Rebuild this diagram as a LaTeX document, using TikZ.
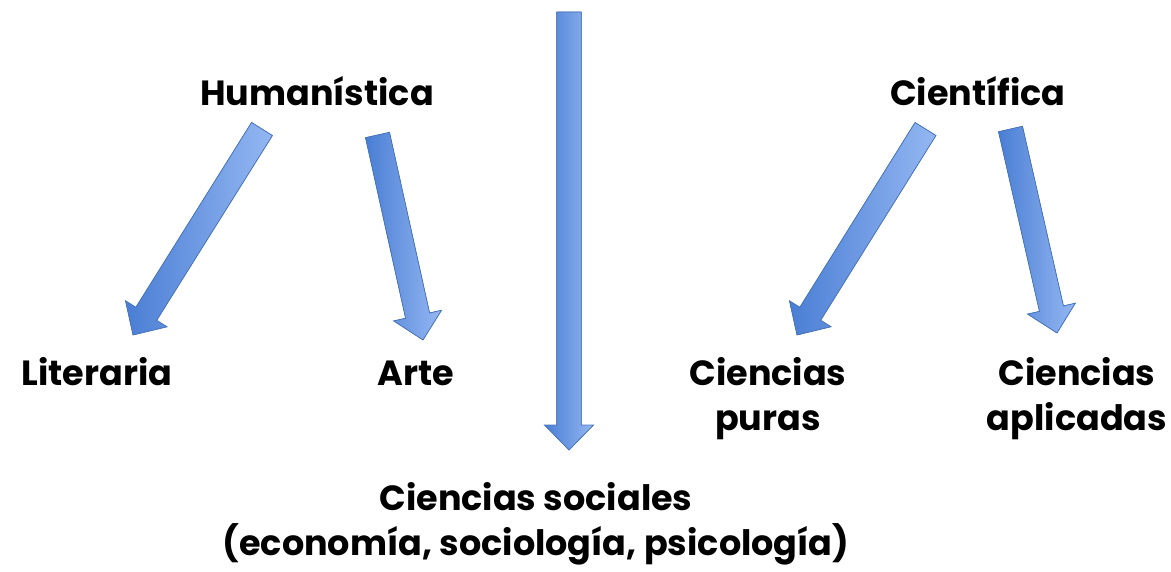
\documentclass[tikz,border=0pt]{standalone}
\usepackage{fontspec}
\setmainfont{Poppins}
\usetikzlibrary{calc}
\definecolor{arrowdark}{RGB}{74,126,212}
\definecolor{arrowlight}{RGB}{148,183,242}
\definecolor{arrowline}{RGB}{72,118,190}
\tikzset{
  label/.style={font=\bfseries\fontsize{35}{45}\selectfont, align=center, anchor=base, inner sep=0pt},
  blockarrow/.style={left color=arrowdark, right color=arrowlight, draw=arrowline, line width=0.8pt, line join=miter}
}
% block arrow from #1 to #2
\newcommand{\bigarrow}[2]{%
  \coordinate (hb) at ($(#2)!25pt!(#1)$);
  \filldraw[blockarrow] ($(#1)!12.3pt!90:(#2)$) -- ($(hb)!12.3pt!90:(#2)$)
    -- ($(hb)!24.5pt!90:(#2)$) -- (#2) -- ($(hb)!24.5pt!-90:(#2)$)
    -- ($(hb)!12.3pt!-90:(#2)$) -- ($(#1)!12.3pt!-90:(#2)$) -- cycle;
}
\begin{document}
\begin{tikzpicture}[x=1pt,y=-1pt]
\useasboundingbox (0,0) rectangle (1171,572);
% labels (base = last line)
\node[label] (hum) at (317,106) {Humanística};
\node[label] (cie) at (978,106) {Científica};
\node[label] (lit) at (97,385) {Literaria};
\node[label] (art) at (416,385) {Arte};
\node[label] (pur) at (768,430) {Ciencias\\puras};
\node[label] (apl) at (1077,430) {Ciencias\\aplicadas};
\node[label] (soc) at (536,555) {Ciencias sociales\\(economía, sociología, psicología)};
% arrow ends
\coordinate (top) at (569,12);
\coordinate (bot) at (569,450);
\coordinate (hum-l) at (262,129);
\coordinate (lit-t) at (133,335);
\coordinate (hum-r) at (377.5,135);
\coordinate (art-t) at (423,340);
\coordinate (cie-l) at (925.5,129);
\coordinate (pur-t) at (797,335);
\coordinate (cie-r) at (1010.5,129);
\coordinate (apl-t) at (1057,333);
% arrows
\foreach \a/\b in {top/bot,hum-l/lit-t,hum-r/art-t,cie-l/pur-t,cie-r/apl-t} {
  \bigarrow{\a}{\b}
}
\end{tikzpicture}
\end{document}
